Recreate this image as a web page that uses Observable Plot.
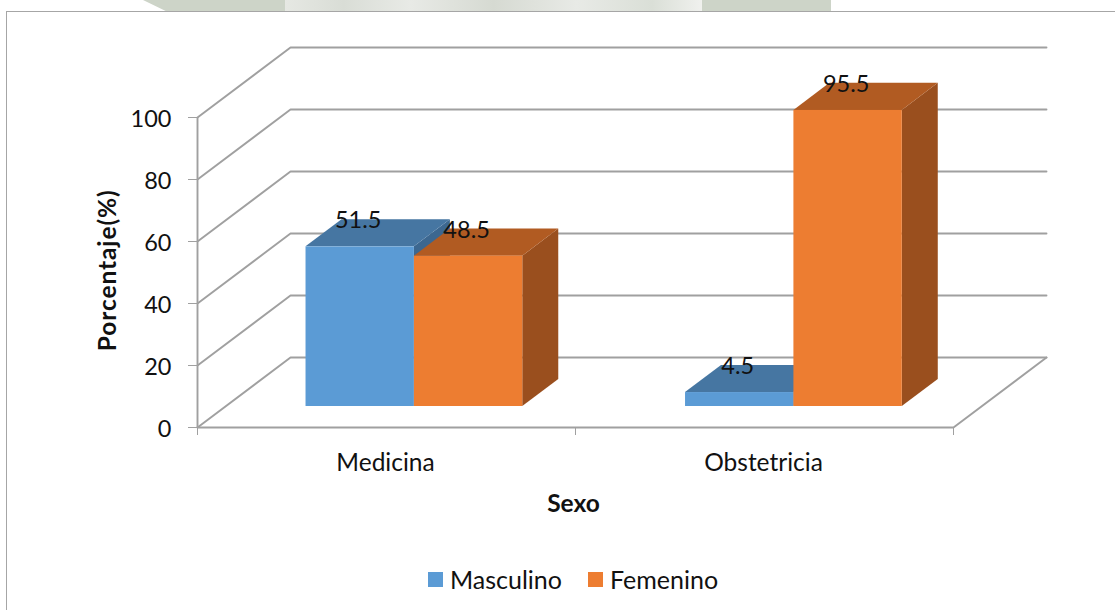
<!DOCTYPE html>
<html>
<head>
<meta charset="utf-8">
<script src="https://cdn.jsdelivr.net/npm/d3@7"></script>
<script src="https://cdn.jsdelivr.net/npm/@observablehq/plot@0.6"></script>
<style>
  html, body { margin: 0; padding: 0; background: #fff; overflow: hidden; }
  body { width: 1115px; height: 610px; position: relative; font-family: Lato, sans-serif; }
  .wm { position: absolute; top: 0; height: 11px; }
  #frame { position: absolute; left: 6px; top: 11px; right: -2px; bottom: -2px; border: 1px solid #a6a6a6; background: #fff; }
  #chart { position: absolute; left: 0; top: 0; }
  #legend { position: absolute; left: 0; width: 1115px; top: 540px; height: 70px; display: block; }
  .key { position: absolute; top: 32px; font-size: 25px; line-height: 14px; color: #111; white-space: nowrap; }
  .swatch { position: absolute; left: 0; top: 0; width: 15px; height: 15px; }
  .keytext { position: absolute; left: 22px; top: 0; }
  .spaced text { letter-spacing: 0.9px; }
</style>
</head>
<body>
<div class="wm" style="left:143px;width:142px;background:#cdd4c8;clip-path:polygon(0 0,100% 0,100% 100%,16% 100%)"></div>
<div class="wm" style="left:285px;width:417px;background:linear-gradient(90deg,#e6e8e3 0,#d9ddd6 14%,#e8eae6 30%,#d6dad2 50%,#e8eae6 70%,#dadfd7 88%,#f0f1ee 100%)"></div>
<div class="wm" style="left:702px;width:129px;background:#cdd4c8"></div>
<div id="frame"></div>
<div id="chart"></div>
<div id="legend"></div>
<script>
const categories = ["Medicina", "Obstetricia"];
const barCenters = [0.5, 1.504];
const masculino = [51.5, 4.5];
const femenino = [48.5, 95.5];
const yTicks = [0, 20, 40, 60, 80, 100];
const seriesNames = ["Masculino", "Femenino"];
const seriesColors = ["#5B9BD5", "#ED7D31"];
const topColors = ["#4676A2", "#B15B22"];
const sideColors = ["#3C6790", "#9A4F1E"];

// Oblique 3D: depth in category units (x) and percent units (y)
const depthX = 93 / 378, depthY = 70 / 3.1;
const zFront = 0.3, zBack = 0.687, barW = 0.2867;

const X = (x, z) => x + z * depthX;
const Y = (y, z) => y + z * depthY;

function faces(values, side) {
  const front = [], top = [], flank = [];
  values.forEach((v, i) => {
    const xl = barCenters[i] + (side === 0 ? -barW : 0);
    const xr = xl + barW;
    const id = i;
    front.push({ x1: X(xl, zFront), x2: X(xr, zFront), y1: Y(0, zFront), y2: Y(v, zFront) });
    top.push({ id, y: Y(v, zFront), x1: X(xl, zFront), x2: X(xr, zFront) });
    top.push({ id, y: Y(v, zBack), x1: X(xl, zBack), x2: X(xr, zBack) });
    flank.push({ id, x: X(xr, zFront), y1: Y(0, zFront), y2: Y(v, zFront) });
    flank.push({ id, x: X(xr, zBack), y1: Y(0, zBack), y2: Y(v, zBack) });
  });
  return { front, top, flank };
}

function barMarks(values, s) {
  const f = faces(values, s);
  return [
    Plot.areaY(f.flank, { x: "x", y1: "y1", y2: "y2", z: "id", fill: sideColors[s], curve: "linear" }),
    Plot.areaX(f.top, { y: "y", x1: "x1", x2: "x2", z: "id", fill: topColors[s], curve: "linear" }),
    Plot.rect(f.front, { x1: "x1", x2: "x2", y1: "y1", y2: "y2", fill: seriesColors[s] })
  ];
}

const xEnd = categories.length;
// wall lines: from front edge, up the floor diagonal, along the back wall
const wall = yTicks.flatMap(t => [
  { t, x: 0, y: t },
  { t, x: X(0, 1), y: Y(t, 1) },
  { t, x: X(xEnd, 1), y: Y(t, 1) }
]);
const floorEdge = [
  { x: 0, y: 0 }, { x: xEnd, y: 0 }, { x: X(xEnd, 1), y: Y(0, 1) }
];

const labels = [
  ...masculino.map((v, i) => ({ v, x: X(barCenters[i] - barW / 2, zFront), y: Y(v, zFront) })),
  ...femenino.map((v, i) => ({ v, x: X(barCenters[i] + barW / 2, zFront), y: Y(v, zFront) }))
];

const chart = Plot.plot({
  width: 1115,
  height: 540,
  marginLeft: 197,
  marginRight: 69,
  marginTop: 47,
  marginBottom: 113,
  style: { background: "transparent", fontFamily: "Lato, sans-serif", overflow: "visible" },
  x: { domain: [0, X(xEnd, 1)], axis: null },
  y: { domain: [0, Y(100, 1)], axis: null },
  marks: [
    Plot.line(wall, { x: "x", y: "y", z: "t", stroke: "#a0a0a0", strokeWidth: 1.9 }),
    Plot.line(floorEdge, { x: "x", y: "y", stroke: "#a0a0a0", strokeWidth: 1.9 }),
    Plot.ruleX([0], { y1: 0, y2: 100, stroke: "#a0a0a0", strokeWidth: 1.9 }),
    Plot.axisY({ ticks: yTicks, tickSize: 9, stroke: "#a0a0a0", tickFormat: () => "", label: null }),
    Plot.axisY({ ticks: yTicks, tickSize: 0, tickPadding: 26, dy: 2, fontSize: 23.5, fill: "#111", label: null, tickFormat: d => String(d) }),
    Plot.axisX({ ticks: d3.range(xEnd + 1), tickSize: 8, stroke: "#a0a0a0", tickFormat: () => "", label: null }),
    ...barMarks(masculino, 0),
    ...barMarks(femenino, 1),
    Plot.text(labels, { x: "x", y: "y", text: d => String(d.v), dx: -2, dy: -26, fontSize: 23.5, fill: "#111" }),
    Plot.text(categories, { x: (d, i) => i + 0.5, y: () => 0, text: d => d, dx: -1, dy: 36, fontSize: 24.5, fill: "#111" }),
    Plot.text(["Sexo"], { x: () => (xEnd / 2), y: () => 0, text: d => d, dx: -2, dy: 77, fontSize: 24.5, fontWeight: "bold", fill: "#111" }),
    Plot.text(["Porcentaje(%)"], { x: () => 0, y: () => Y(100, 0) / 2 + 2, text: d => d, dx: -89, dy: 4, rotate: -90, fontSize: 24.5, fontWeight: "bold", fill: "#111", className: "spaced" })
  ]
});
document.getElementById("chart").appendChild(chart);

const legend = document.getElementById("legend");
const keyLefts = ["428px", "588px"];
seriesNames.forEach((name, i) => {
  const k = document.createElement("div");
  k.className = "key";
  k.style.left = keyLefts[i];
  const s = document.createElement("span");
  s.className = "swatch";
  s.style.background = seriesColors[i];
  const t = document.createElement("span");
  t.className = "keytext";
  t.textContent = name;
  k.appendChild(s);
  k.appendChild(t);
  legend.appendChild(k);
});
</script>
</body>
</html>
